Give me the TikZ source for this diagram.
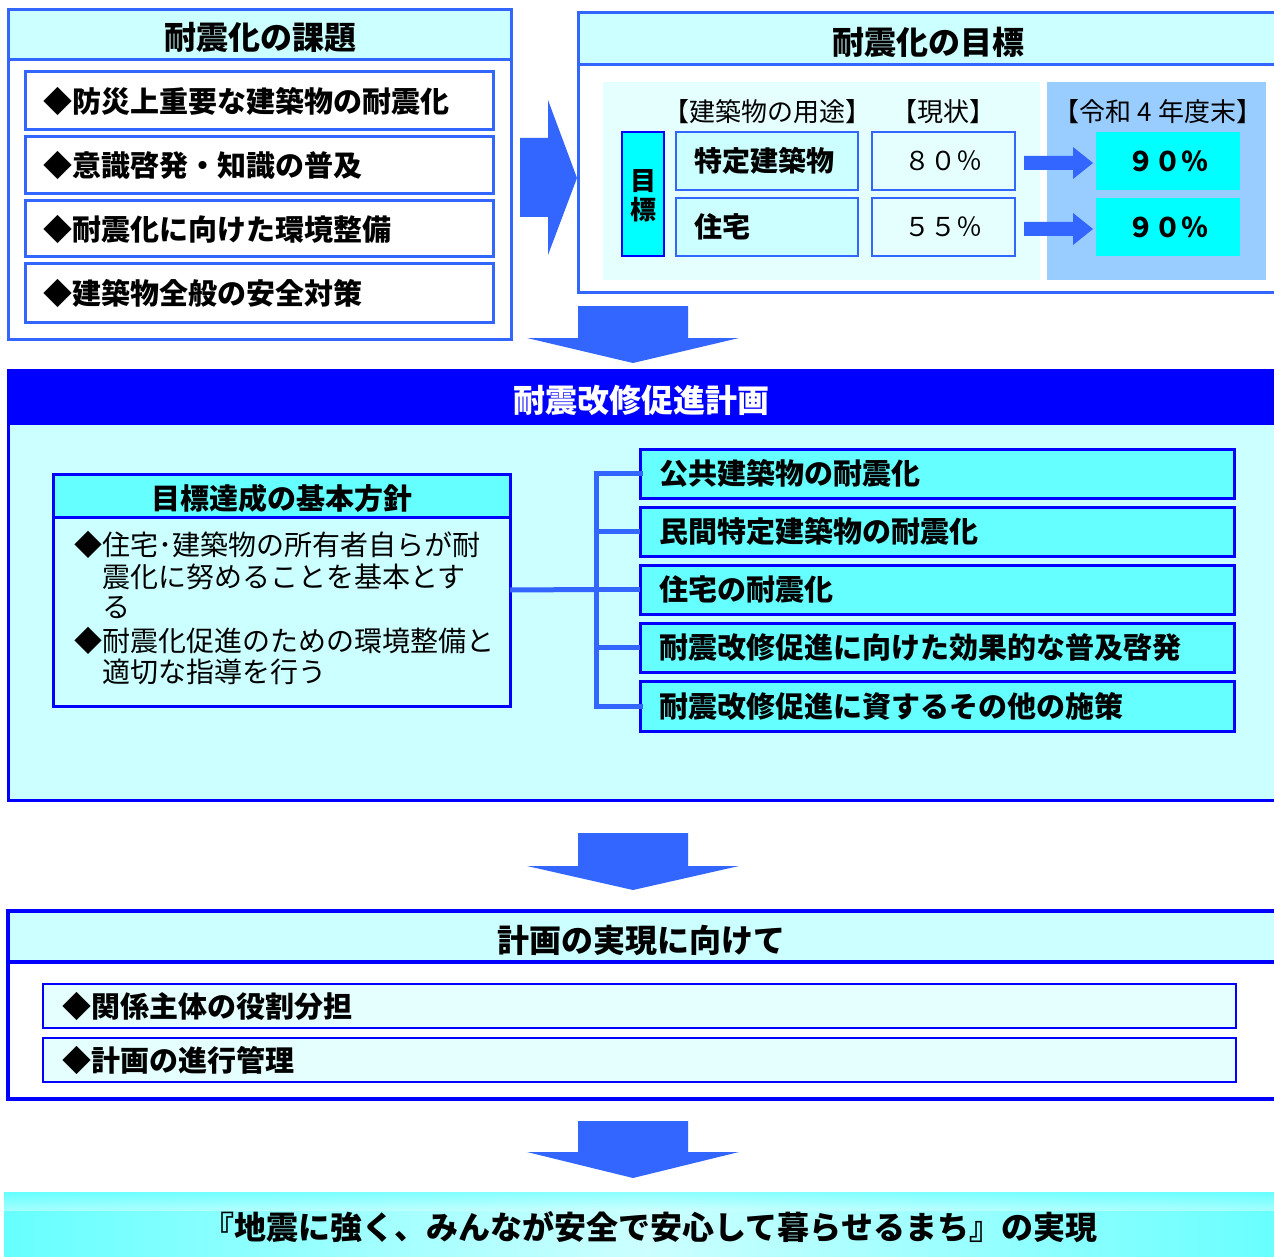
\documentclass[tikz,border=0pt]{standalone}
\usepackage{fontspec}
\setmainfont{Noto Sans CJK JP}
\definecolor{lb}{HTML}{3366FF}
\definecolor{db}{HTML}{0000FF}
\definecolor{hc}{HTML}{CCFFFF}
\definecolor{ic}{HTML}{66FFFF}
\definecolor{bc}{HTML}{00FFFF}
\definecolor{sk}{HTML}{99CCFF}
\definecolor{vl}{HTML}{E5FFFF}
\newcommand\fsz[1]{\fontsize{#1}{#1}\selectfont}
% \BX{name}{x1}{y1}{x2}{y2}{style}{text}
\newcommand\BX[7]{\node[#6, minimum width={#4-#2}, minimum height={#5-#3}] (#1) at ({(#2+#4)/2},{(#3+#5)/2}) {#7};}
\begin{document}
\begin{tikzpicture}[x=1pt,y=-1pt,
  every node/.style={inner sep=0pt,outer sep=0pt},
  lbox/.style={draw=lb, line width=3pt},
  dbox/.style={draw=db, line width=3pt},
  ttl/.style={font=\bfseries\fsz{32}},
  ltxt/.style={font=\bfseries\fsz{29}, text width={#1}, align=left},
  body/.style={anchor=west, font=\fsz{28}},
  arr/.style={fill=lb, draw=none},
  conn/.style={draw=lb, line width=5pt}
]
\clip (0,0) rectangle (1274,1257);
\fill[white] (0,0) rectangle (1274,1257);

% ---------- left box: 耐震化の課題
\BX{kout}{8}{10}{511}{339}{lbox, fill=white}{}
\BX{khead}{8}{10}{511}{60}{lbox, fill=hc}{}
\node[ttl] (ktitle) at (260,38) {耐震化の課題};
\BX{k1}{25}{72}{493}{130}{lbox, fill=white, inner xsep=18pt, ltxt=432pt}{◆防災上重要な建築物の耐震化}
\BX{k2}{25}{137}{493}{194}{lbox, fill=white, inner xsep=18pt, ltxt=432pt}{◆意識啓発・知識の普及}
\BX{k3}{25}{201}{493}{257}{lbox, fill=white, inner xsep=18pt, ltxt=432pt}{◆耐震化に向けた環境整備}
\BX{k4}{25}{264}{493}{322}{lbox, fill=white, inner xsep=18pt, ltxt=432pt}{◆建築物全般の安全対策}

% big right arrow
\fill[arr] (520,138) -- (548,138) -- (548,100) -- (577,178) -- (548,255) -- (548,217) -- (520,217) -- cycle;

% ---------- right box: 耐震化の目標
\BX{mout}{578}{13}{1290}{293}{lbox, fill=white}{}
\BX{mhead}{578}{13}{1290}{65}{lbox, fill=hc}{}
\node[ttl] (mtitle) at (928,42) {耐震化の目標};
\fill[vl] (603,82) rectangle (1040,280);
\fill[sk] (1047,82) rectangle (1266,280);
\node[font=\fsz{26}] (h1) at (767,112) {【建築物の用途】};
\node[font=\fsz{26}] (h2) at (943,112) {【現状】};
\node[font=\fsz{26}] (h3) at (1158,112) {【令和 4 年度末】};
\BX{goal}{622}{132}{664}{256}{draw=db, line width=2.5pt, fill=bc}{}
\node[font=\bfseries\fsz{26}] (goal1) at (643,181) {目};
\node[font=\bfseries\fsz{26}] (goal2) at (643,210) {標};
\BX{u1}{676}{132}{858}{190}{draw=lb, line width=2.5pt, fill=hc, inner xsep=18pt, text width=146pt, align=left, font=\bfseries\fsz{28}}{特定建築物}
\BX{u2}{676}{198}{858}{256}{draw=lb, line width=2.5pt, fill=hc, inner xsep=18pt, text width=146pt, align=left, font=\bfseries\fsz{28}}{住宅}
\BX{c1}{872}{132}{1015}{190}{draw=lb, line width=2.5pt, fill=vl, font=\fsz{26}}{８０％}
\BX{c2}{872}{198}{1015}{256}{draw=lb, line width=2.5pt, fill=vl, font=\fsz{26}}{５５％}
\BX{g1}{1096}{132}{1240}{190}{fill=bc, font=\bfseries\fsz{27}}{９０％}
\BX{g2}{1096}{198}{1240}{256}{fill=bc, font=\bfseries\fsz{27}}{９０％}
\fill[arr] (1024,156) -- (1073,156) -- (1073,147) -- (1093,163) -- (1073,179) -- (1073,170) -- (1024,170) -- cycle;
\fill[arr] (1024,222) -- (1073,222) -- (1073,213) -- (1093,229) -- (1073,245) -- (1073,236) -- (1024,236) -- cycle;

% down arrow 1
\fill[arr] (578,306) -- (688,306) -- (688,338) -- (739,338) -- (633,363) -- (527,338) -- (578,338) -- cycle;

% ---------- 耐震改修促進計画
\BX{pout}{8}{370}{1290}{800}{dbox, fill=hc}{}
\BX{phead}{8}{370}{1290}{425}{fill=db}{}
\node[ttl, text=white] (ptitle) at (641,400) {耐震改修促進計画};

\BX{kh}{53}{474}{510}{706}{dbox, fill=hc}{}
\BX{khh}{53}{474}{510}{517}{dbox, fill=ic}{}
\node[font=\bfseries\fsz{29}] (khtitle) at (282,498) {目標達成の基本方針};
\node[body] (t1) at (74,545) {◆住宅･建築物の所有者自らが耐};
\node[body] (t2) at (102,577) {震化に努めることを基本とす};
\node[body] (t3) at (102,608) {る};
\node[body] (t4) at (74,641) {◆耐震化促進のための環境整備と};
\node[body] (t5) at (102,672) {適切な指導を行う};

\BX{p1}{640}{449}{1234}{498}{dbox, fill=ic, inner xsep=19pt, ltxt=556pt}{公共建築物の耐震化}
\BX{p2}{640}{507}{1234}{556}{dbox, fill=ic, inner xsep=19pt, ltxt=556pt}{民間特定建築物の耐震化}
\BX{p3}{640}{565}{1234}{614}{dbox, fill=ic, inner xsep=19pt, ltxt=556pt}{住宅の耐震化}
\BX{p4}{640}{623}{1234}{672}{dbox, fill=ic, inner xsep=19pt, ltxt=556pt}{耐震改修促進に向けた効果的な普及啓発}
\BX{p5}{640}{681}{1234}{731}{dbox, fill=ic, inner xsep=19pt, ltxt=556pt}{耐震改修促進に資するその他の施策}
\coordinate (bus) at (596,590);
\draw[conn] (kh.east) -- (p3.west -| bus);
\draw[conn, line cap=rect] (p1.west) -- (p1.west -| bus) -- (p5.west -| bus) -- (p5.west);
\draw[conn] (p2.west -| bus) -- (p2.west);
\draw[conn] (p3.west -| bus) -- (p3.west);
\draw[conn] (p4.west -| bus) -- (p4.west);

% down arrow 2
\fill[arr] (578,833) -- (688,833) -- (688,866) -- (739,866) -- (633,890) -- (527,866) -- (578,866) -- cycle;

% ---------- 計画の実現に向けて
\BX{rout}{8}{911}{1290}{1099}{draw=db, line width=4pt, fill=white}{}
\BX{rhead}{8}{911}{1290}{962}{draw=db, line width=4pt, fill=hc}{}
\node[ttl] (rtitle) at (641,940) {計画の実現に向けて};
\BX{r1}{43}{984}{1236}{1028}{draw=db, line width=2.5pt, fill=vl, inner xsep=19pt, ltxt=1155pt}{◆関係主体の役割分担}
\BX{r2}{43}{1038}{1236}{1082}{draw=db, line width=2.5pt, fill=vl, inner xsep=19pt, ltxt=1155pt}{◆計画の進行管理}

% down arrow 3
\fill[arr] (578,1121) -- (688,1121) -- (688,1152) -- (739,1152) -- (633,1178) -- (527,1152) -- (578,1152) -- cycle;

% ---------- final band
\shade[left color=ic, right color=ic, middle color=hc] (4,1192) rectangle (1290,1257);
\shade[top color=ic, bottom color=hc, opacity=0.6] (4,1192) rectangle (1290,1210);
\node[font=\bfseries\fsz{32}] (goaltext) at (650,1227) {『地震に強く、みんなが安全で安心して暮らせるまち』の実現};
\end{tikzpicture}
\end{document}
